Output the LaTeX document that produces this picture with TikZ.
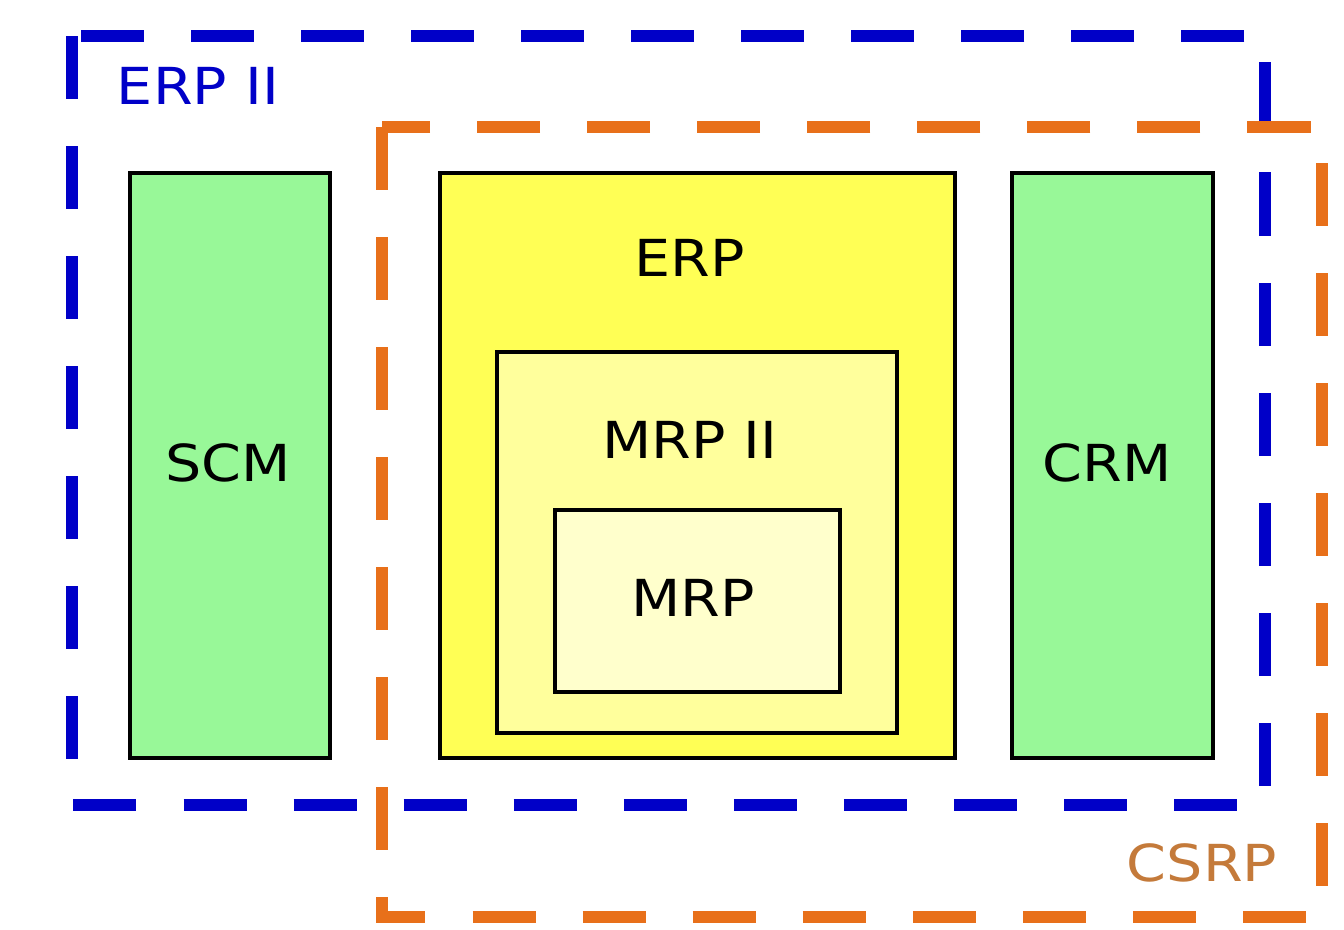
\documentclass[tikz,border=0pt]{standalone}
\usepackage{fontspec}
\setmainfont{DejaVu Sans}[FakeStretch=1.12]
\usetikzlibrary{positioning}
\definecolor{eblau}{HTML}{0000C8}
\definecolor{corange}{HTML}{E8701A}
\definecolor{cbraun}{HTML}{C47A3A}
\definecolor{mgruen}{HTML}{98F898}
\definecolor{gelbA}{HTML}{FFFF55}
\definecolor{gelbB}{HTML}{FFFF9C}
\definecolor{gelbC}{HTML}{FFFFCC}

\begin{document}
\begin{tikzpicture}[x=0.01cm,y=-0.01cm,
        every node/.style={font=\fontsize{14.5}{17}\selectfont},
        modul/.style={draw=black, line width=1.1pt, rectangle, inner sep=0pt},
        rahmen/.style={line width=3.2pt, dash pattern=on 0.63cm off 0.47cm}]
        \useasboundingbox (0,0) rectangle (1344,930);

        % Umrandungen
        \draw[rahmen, eblau] (72,36) rectangle (1265,805);
        \draw[rahmen, corange] (382,127) rectangle (1322,917);

        \node[text=eblau] (ERPII) at (198,86) {ERP II};
        \node[text=cbraun] (CSRP) at (1202,863) {CSRP};

        % Module
        \node[modul, fill=mgruen, minimum width=2cm, minimum height=5.85cm] (SCM) at (230,465.5) {};
        \node[modul, fill=gelbA, minimum width=5.15cm, minimum height=5.85cm] (ERP) at (697.5,465.5) {};
        \node[modul, fill=gelbB, minimum width=4cm, minimum height=3.81cm] (MRPII) at (697,542.5) {};
        \node[modul, fill=gelbC, minimum width=2.85cm, minimum height=1.82cm] (MRP) at (697.5,601) {};
        \node[modul, fill=mgruen, minimum width=2.01cm, minimum height=5.85cm] (CRM) at (1112.5,465.5) {};

        \node (SCMt) at (228,463) {SCM};
        \node (ERPt) at (690,258) {ERP};
        \node (MRPIIt) at (690,440) {MRP II};
        \node (MRPt) at (693,598) {MRP};
        \node (CRMt) at (1107,463) {CRM};

    \end{tikzpicture}
\end{document}
